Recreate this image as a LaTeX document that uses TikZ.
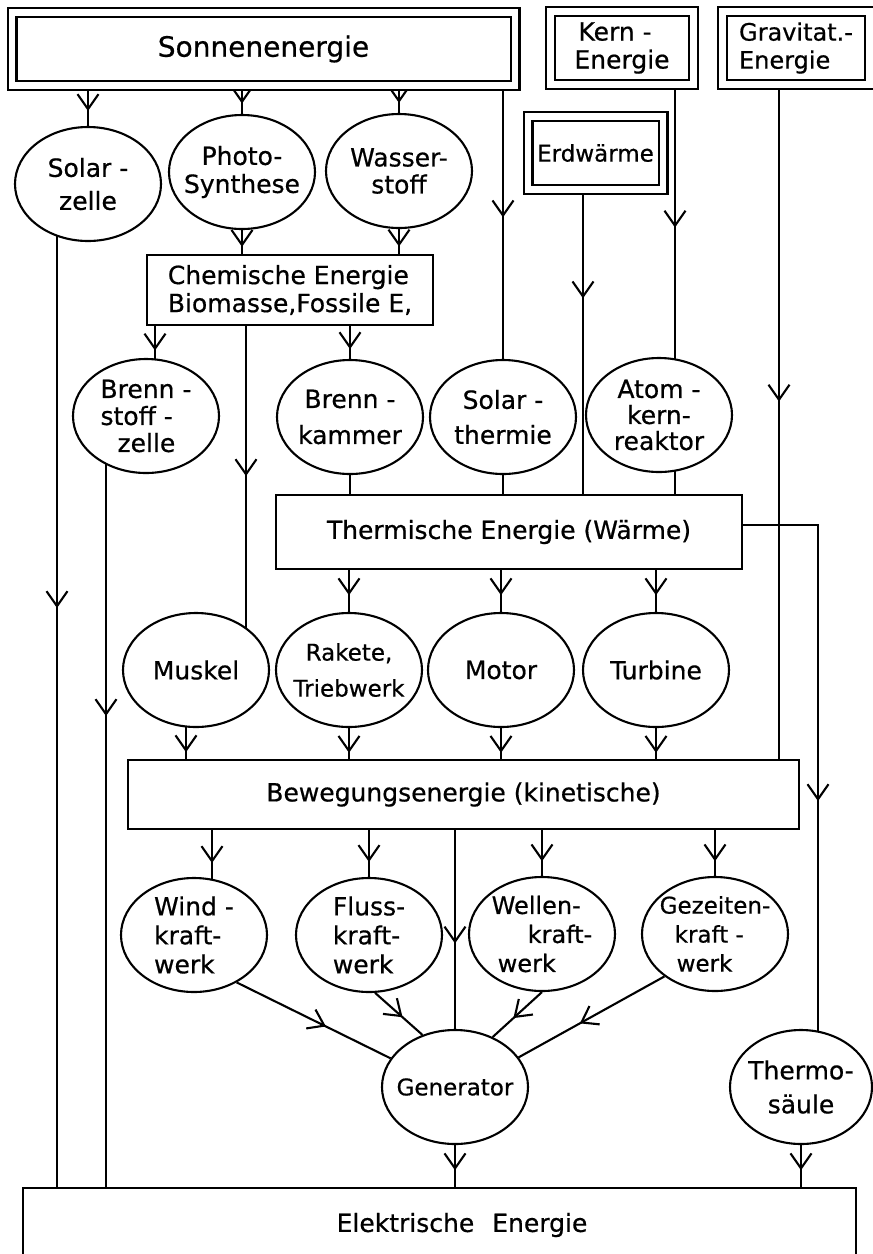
\documentclass[tikz,border=0pt]{standalone}
\usepackage{fontspec}
\setmainfont{DejaVu Sans}[FakeBold=0.6]
\usetikzlibrary{shapes.geometric,arrows.meta,decorations.markings}
\pgfdeclarelayer{bg}
\pgfsetlayers{bg,main}
\begin{document}
\begin{tikzpicture}[x=1pt,y=-1pt,
  every node/.style={font=\fontsize{25}{30}\selectfont},
  ell/.style={ellipse,draw,line width=2.1pt,fill=white,minimum width=146pt,minimum height=114pt,inner xsep=-25pt,inner ysep=-20pt,align=center},
  dbox/.style={draw,line width=2.1pt,double,double distance=6.8pt,inner sep=0pt,align=center},
  sbox/.style={draw,line width=2.1pt,fill=white,inner sep=0pt,align=center},
  con/.style={line width=2.1pt},
  arr/.style={con,postaction={decorate},decoration={markings,mark=at position #1 with {\arrow[line width=2.1pt]{Straight Barb[length=15pt,width=21pt]}}}},
]
\useasboundingbox (0,0) rectangle (873,1254);

% sources
\node[dbox,minimum width=503pt,minimum height=73pt,font=\fontsize{28}{30}\selectfont] (sonne) at (263.5,49) {Sonnenenergie};
\node[dbox,minimum width=143.5pt,minimum height=73pt,align=left,font=\fontsize{25}{28}\selectfont] (kern) at (622,48) {\hspace*{4pt}Kern -\\Energie};
\node[dbox,minimum width=146.5pt,minimum height=73pt,align=left,font=\fontsize{24}{28}\selectfont] (grav) at (796,48) {Gravitat.-\\Energie};
\node[dbox,minimum width=135pt,minimum height=72.5pt,font=\fontsize{23}{28}\selectfont] (erd) at (595.5,153) {Erdwärme};

% row 1
\node[ell,font=\fontsize{25}{33}\selectfont] (solar) at (88,184) {Solar -\\zelle};
\node[ell,font=\fontsize{25}{28}\selectfont] (photo) at (242,172) {Photo-\\Synthese};
\node[ell,font=\fontsize{25}{27}\selectfont] (wasser) at (399,171) {Wasser-\\stoff};

\node[sbox,minimum width=286pt,minimum height=70pt,align=left,font=\fontsize{25}{28}\selectfont] (chem) at (290,290) {Chemische Energie\\Biomasse,Fossile E,};

% row 2
\node[ell,align=left,font=\fontsize{25}{27}\selectfont] (bsz) at (146,416) {Brenn -\\stoff -\\\hspace*{17pt}zelle};
\node[ell,font=\fontsize{25}{36}\selectfont] (bk) at (350,417) {Brenn -\\kammer};
\node[ell,font=\fontsize{25}{35}\selectfont] (st) at (503,417) {Solar -\\thermie};
\node[ell,font=\fontsize{25}{26}\selectfont] (atom) at (659,415) {Atom -\\kern-\\reaktor};

\node[sbox,minimum width=466pt,minimum height=74pt] (therm) at (509,532) {Thermische Energie (Wärme)};

% row 3
\node[ell] (muskel) at (196,670) {Muskel};
\node[ell,font=\fontsize{23}{36}\selectfont] (rakete) at (349,670) {Rakete,\\Triebwerk};
\node[ell] (motor) at (501,670) {Motor};
\node[ell] (turbine) at (656,670) {Turbine};

\node[sbox,minimum width=671pt,minimum height=69pt] (bew) at (463.5,794.5) {Bewegungsenergie (kinetische)};

% row 4
\node[ell,align=left,font=\fontsize{25}{29}\selectfont] (wind) at (194,935) {Wind -\\kraft-\\werk};
\node[ell,align=left,font=\fontsize{25}{29}\selectfont] (fluss) at (369,935) {Fluss-\\kraft-\\werk};
\node[ell,align=left,font=\fontsize{24}{29}\selectfont] (wellen) at (542,934) {Wellen-\\\hspace*{36pt}kraft-\\\hspace*{6pt}werk};
\node[ell,align=left,font=\fontsize{23}{29}\selectfont] (gez) at (715,934) {Gezeiten-\\\hspace*{15pt}kraft -\\\hspace*{17pt}werk};

\node[ell,font=\fontsize{23}{24}\selectfont] (gen) at (455,1087) {Generator};
\node[ell,minimum width=142pt,font=\fontsize{25}{34}\selectfont] (ths) at (801,1087) {Thermo-\\säule};

\node[sbox,anchor=north west,minimum width=833pt,minimum height=113pt] (elec) at (22,1187) {};
\node (electext) at (462,1225) {Elektrische\hspace{18pt}Energie};

\begin{pgfonlayer}{bg}
\draw[arr=0.62] (sonne.south -| solar.north) -- (solar.north);
\draw[arr=0.62] (sonne.south -| photo.north) -- (photo.north);
\draw[arr=0.62] (sonne.south -| wasser.north) -- (wasser.north);
\draw[arr=0.48] (sonne.south -| st.north) -- (st.north);
\coordinate (kx) at ([xshift=16pt]atom.center);
\draw[arr=142pt] (kern.south -| kx) -- (kx);
\coordinate (ex) at ([xshift=-12.5pt]erd.center);
\draw[arr=108pt] (erd.south -| ex) -- (therm.north -| ex);
\coordinate (gx) at ([xshift=-17pt]grav.south);
\draw[arr=316pt] (gx) -- (bew.north -| gx);

\draw[arr=0.7] (photo.south) -- (chem.north -| photo.south);
\draw[arr=0.7] (wasser.south) -- (chem.north -| wasser.south);

\coordinate (sx) at ([xshift=-31pt]solar.center);
\draw[arr=424pt] (sx) -- (elec.north -| sx);

\coordinate (bszx) at ([xshift=9pt,yshift=-3pt]bsz.north);
\draw[arr=0.7] (chem.south -| bszx) -- (bszx);
\draw[arr=0.7] (chem.south -| bk.north) -- (bk.north);
\coordinate (mx) at ([xshift=50pt]muskel.center);
\draw[arr=150pt] (chem.south -| mx) -- (mx);
\coordinate (bx) at ([xshift=-40pt]bsz.center);
\draw[arr=300pt] (bx) -- (elec.north -| bx);

\draw[con] (bk.south) -- (therm.north -| bk.south);
\draw[con] (st.south) -- (therm.north -| st.south);
\draw[con] (kx) -- (therm.north -| kx);

\coordinate (tx) at ([xshift=17pt]ths.center);
\draw[arr=351pt] ([yshift=7pt]therm.east) -| (tx);

\draw[arr=0.6] (therm.south -| rakete.north) -- (rakete.north);
\draw[arr=0.6] (therm.south -| motor.north) -- (motor.north);
\draw[arr=0.6] (therm.south -| turbine.north) -- (turbine.north);

\coordinate (mux) at ([xshift=-10pt,yshift=3pt]muskel.south);
\draw[arr=0.8] (mux) -- (bew.north -| mux);
\draw[arr=0.8] (rakete.south) -- (bew.north -| rakete.south);
\draw[arr=0.8] (motor.south) -- (bew.north -| motor.south);
\draw[arr=0.8] (turbine.south) -- (bew.north -| turbine.south);

\coordinate (wx) at ([xshift=18pt,yshift=-3pt]wind.north);
\draw[arr=0.66] (bew.south -| wx) -- (wx);
\draw[arr=0.68] (bew.south -| fluss.north) -- (fluss.north);
\draw[arr=0.68] (bew.south -| wellen.north) -- (wellen.north);
\draw[arr=0.68] (bew.south -| gez.north) -- (gez.north);
\draw[arr=0.57] (bew.south -| gen.north) -- (gen.north);

\draw[arr=0.58] (wind.-48) -- (gen.156);
\draw[arr=0.58] (fluss.-84) -- (gen.122);
\draw[arr=0.58] (wellen.-90) -- (gen.53);
\draw[arr=0.58] (gez.-140) -- (gen.25);

\draw[arr=0.6] (gen.south) -- (elec.north -| gen.south);
\draw[arr=0.6] (ths.south) -- (elec.north -| ths.south);
\end{pgfonlayer}
\end{tikzpicture}
\end{document}
